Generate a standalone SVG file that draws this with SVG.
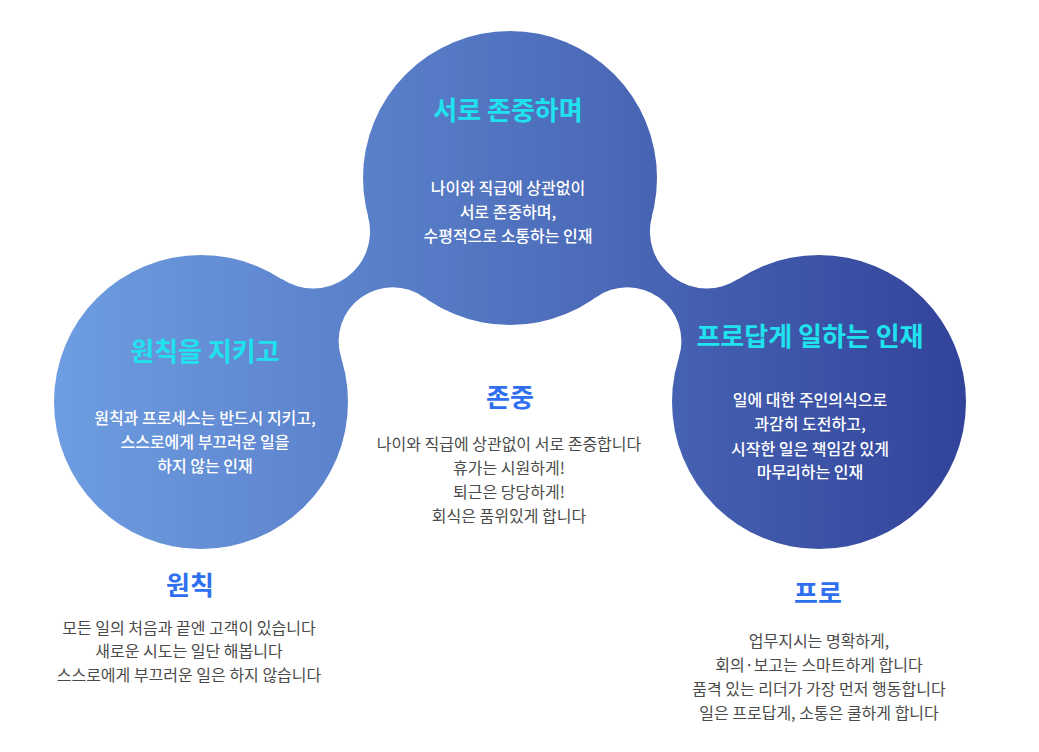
<svg xmlns="http://www.w3.org/2000/svg" width="1039" height="752" viewBox="0 0 1039 752">
  <defs>
    <linearGradient id="blobGrad" gradientUnits="userSpaceOnUse" x1="54" y1="0" x2="966" y2="0">
      <stop offset="0" stop-color="#6E9DE1"/>
      <stop offset="0.5" stop-color="#5173BF"/>
      <stop offset="1" stop-color="#32439A"/>
    </linearGradient>
    <style>
      text { font-family: "Noto Sans CJK KR", "Noto Sans KR", sans-serif; text-anchor: middle; }
      .blob { fill: url(#blobGrad); }
      .ctitle { font-size: 26px; font-weight: 700; fill: #1FE2EE; }
      .cbody { font-size: 16px; font-weight: 500; fill: #FFFFFF; }
      .btitle { font-size: 26px; font-weight: 700; fill: #2E6FEF; }
      .bbody { font-size: 16px; font-weight: 400; fill: #4A4A4A; }
    </style>
  </defs>
  <rect x="0" y="0" width="1039" height="752" fill="#FFFFFF"/>

  <g id="connectors">
    <path class="blob" d="M 368.1,216.6 A 57 57 0 0 1 281.8,279.1 L 201,402 L 341.1,357.5 A 54 54 0 0 1 424.1,297.4 L 510,178 Z"/>
    <path class="blob" d="M 651.9,216.6 A 57 57 0 0 0 738.2,279.1 L 819,402 L 678.9,357.5 A 54 54 0 0 0 595.9,297.4 L 510,178 Z"/>
  </g>

  <g id="node-top">
    <circle class="blob" cx="510" cy="178" r="147"/>
    <text class="ctitle" x="508" y="120">서로 존중하며</text>
    <text class="cbody" x="508" y="194">나이와 직급에 상관없이</text>
    <text class="cbody" x="508" y="218">서로 존중하며,</text>
    <text class="cbody" x="508" y="242">수평적으로 소통하는 인재</text>
  </g>

  <g id="node-left">
    <circle class="blob" cx="201" cy="402" r="147"/>
    <text class="ctitle" x="205" y="361">원칙을 지키고</text>
    <text class="cbody" x="205" y="424">원칙과 프로세스는 반드시 지키고,</text>
    <text class="cbody" x="205" y="448">스스로에게 부끄러운 일을</text>
    <text class="cbody" x="205" y="472">하지 않는 인재</text>
  </g>

  <g id="node-right">
    <circle class="blob" cx="819" cy="402" r="147"/>
    <text class="ctitle" x="810" y="346">프로답게 일하는 인재</text>
    <text class="cbody" x="810" y="406">일에 대한 주인의식으로</text>
    <text class="cbody" x="810" y="430">과감히 도전하고,</text>
    <text class="cbody" x="810" y="455">시작한 일은 책임감 있게</text>
    <text class="cbody" x="810" y="478">마무리하는 인재</text>
  </g>

  <g id="text-respect">
    <text class="btitle" x="510" y="407">존중</text>
    <text class="bbody" x="509" y="450">나이와 직급에 상관없이 서로 존중합니다</text>
    <text class="bbody" x="509" y="474">휴가는 시원하게!</text>
    <text class="bbody" x="509" y="498">퇴근은 당당하게!</text>
    <text class="bbody" x="509" y="522">회식은 품위있게 합니다</text>
  </g>

  <g id="text-principle">
    <text class="btitle" x="190" y="595">원칙</text>
    <text class="bbody" x="189" y="634">모든 일의 처음과 끝엔 고객이 있습니다</text>
    <text class="bbody" x="189" y="657">새로운 시도는 일단 해봅니다</text>
    <text class="bbody" x="189" y="681">스스로에게 부끄러운 일은 하지 않습니다</text>
  </g>

  <g id="text-pro">
    <text class="btitle" x="818" y="603">프로</text>
    <text class="bbody" x="819" y="647">업무지시는 명확하게,</text>
    <text class="bbody" x="819" y="671">회의·보고는 스마트하게 합니다</text>
    <text class="bbody" x="819" y="695">품격 있는 리더가 가장 먼저 행동합니다</text>
    <text class="bbody" x="819" y="719">일은 프로답게, 소통은 쿨하게 합니다</text>
  </g>
</svg>
